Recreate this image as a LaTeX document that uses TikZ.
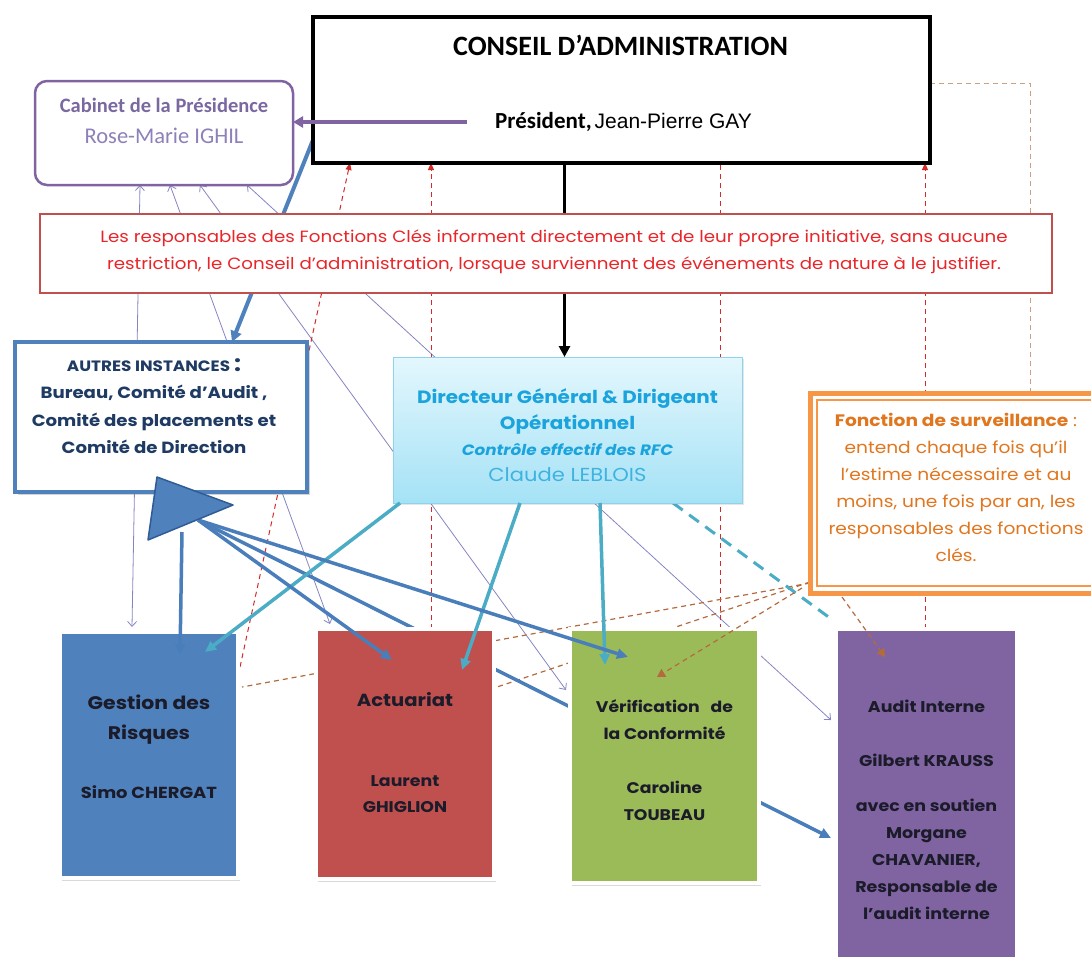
\documentclass[tikz,border=0pt]{standalone}
\usepackage{fontspec}
\setmainfont{Poppins}[FakeStretch=1.12]
\newfontfamily\calib{Carlito}
\newfontfamily\arialf{Liberation Sans}
\usetikzlibrary{arrows.meta,shadows}
\pgfdeclarelayer{bg}
\pgfdeclarelayer{fg}
\pgfsetlayers{bg,main,fg}
\newcommand{\setsz}[2]{\fontsize{#1}{#2}\selectfont}

\definecolor{grblue}{HTML}{4F81BD}
\definecolor{actred}{HTML}{C0504D}
\definecolor{vcgreen}{HTML}{9BBB59}
\definecolor{aipurple}{HTML}{8064A2}
\definecolor{cabtext}{HTML}{7A68A0}
\definecolor{cablight}{HTML}{8E80B8}
\definecolor{notetext}{HTML}{E8262A}
\definecolor{autnavy}{HTML}{1F3B63}
\definecolor{dgtop}{HTML}{E3F7FD}
\definecolor{dgbot}{HTML}{A5E2F6}
\definecolor{dgborder}{HTML}{8FD2EC}
\definecolor{dgtext}{HTML}{1AA3DC}
\definecolor{dglight}{HTML}{3FB3E0}
\definecolor{fsorange}{HTML}{F79646}
\definecolor{fstext}{HTML}{E0761E}
\definecolor{boxtext}{HTML}{1B1B2A}
\definecolor{thinline}{HTML}{8585C2}
\definecolor{dashred}{HTML}{D42A2A}
\definecolor{dashorg}{HTML}{B46A3C}
\definecolor{dashtop}{HTML}{C9A080}
\definecolor{arrblue}{HTML}{4A7EBB}
\definecolor{arrteal}{HTML}{4BACC6}
\definecolor{tridark}{HTML}{2F5C94}

\begin{document}
\begin{tikzpicture}[x=1pt, y=-1pt,
  box/.style={inner sep=0pt, outer sep=0pt, anchor=north west},
  fnbox/.style={box, draw=white, line width=4pt,
    drop shadow={opacity=0.3, shadow xshift=2pt, shadow yshift=-3pt}},
  txt/.style={align=center, inner sep=0pt},
  thinlink/.style={draw=thinline, line width=0.8pt,
    {Straight Barb[length=5pt,width=9pt]}-{Straight Barb[length=5pt,width=9pt]}},
  reddash/.style={draw=dashred, line width=1pt, dash pattern=on 5pt off 4pt},
  redtip/.style={-{Triangle[length=7pt,width=6pt]}},
  orgdash/.style={draw=dashorg, line width=1.2pt, dash pattern=on 5pt off 4pt},
  orgtip/.style={-{Triangle[length=8pt,width=9pt]}},
  bluelink/.style={draw=arrblue, line width=3.5pt, -{Triangle[length=11pt,width=10pt]}},
  teallink/.style={draw=arrteal, line width=3.5pt, -{Triangle[length=11pt,width=10pt]}}]
\useasboundingbox (0,0) rectangle (1091,956);

% boxes
\node[box, draw=black, line width=3.5pt, fill=white, minimum width=617, minimum height=146] (ca) at (313,17) {};
\node[txt, font=\calib\bfseries\setsz{28}{32}] (ca-title) at ([xshift=-1pt,yshift=-28pt]ca.north) {CONSEIL D’ADMINISTRATION};
\node[txt] (pres) at ([xshift=2pt,yshift=-105pt]ca.north)
  {{\calib\bfseries\setsz{23}{26}Président,}\ {\arialf\setsz{21}{24}Jean-Pierre GAY}};

\node[box, draw=aipurple, line width=2.5pt, rounded corners=12pt, fill=white,
  minimum width=258, minimum height=104] (cab) at (35,81) {};
\node[txt, font=\calib\setsz{20.5}{31}] (cab-t) at ([yshift=-40pt]cab.north)
  {\textcolor{cabtext}{\bfseries Cabinet de la Présidence}\\\textcolor{cablight}{\setsz{22.5}{31}Rose-Marie IGHIL}};

\node[box, draw=actred, line width=2.5pt, fill=white, minimum width=1012, minimum height=79] (note) at (40,214) {};
\node[txt, text=notetext, font=\setsz{16.3}{27}] (note-t) at ([xshift=8pt,yshift=2pt]note.center)
  {Les responsables des Fonctions Clés informent directement et de leur propre initiative, sans aucune\\
   restriction, le Conseil d’administration, lorsque surviennent des événements de nature à le justifier.};

\node[box, draw=grblue, line width=3.5pt, fill=white, minimum width=292, minimum height=150,
  drop shadow={opacity=0.35, shadow xshift=3pt, shadow yshift=-3pt}] (autres) at (15,342) {};
\node[txt, text=autnavy, font=\bfseries\setsz{16.2}{27.3}] (autres-t) at ([xshift=-7pt,yshift=-64pt]autres.north)
  {{\setsz{15}{27.3}AUTRES INSTANCES}\ {\setsz{22}{27.3}:}\\Bureau, Comité d’Audit ,\\Comité des placements et\\Comité de Direction};

\node[box, draw=dgborder, line width=0.8pt, top color=dgtop, bottom color=dgbot,
  minimum width=349, minimum height=146,
  drop shadow={opacity=0.2, shadow xshift=2pt, shadow yshift=-2pt}] (dg) at (393,357) {};
\node[txt, text=dgtext, font=\bfseries\setsz{17.8}{26}] (dg-t) at ([yshift=-78pt]dg.north)
  {Directeur Général \& Dirigeant\\Opérationnel\\{\itshape\setsz{15}{26}Contrôle effectif des RFC}\\{\mdseries\setsz{18.8}{26}\textcolor{dglight}{Claude LEBLOIS}}};

\node[box, draw=fsorange, line width=5pt, fill=white, minimum width=300, minimum height=200] (fs) at (810,393) {};
\draw[fsorange, line width=1.2pt] ([shift={(7,7)}]fs.north west) rectangle ([shift={(-7,-7)}]fs.south east);
\node[txt, text=fstext, font=\setsz{16.6}{27}] (fs-t) at ([xshift=-4pt,yshift=-94pt]fs.north)
  {{\bfseries Fonction de surveillance} :\\entend chaque fois qu'il\\l'estime nécessaire et au\\moins, une fois par an, les\\responsables des fonctions\\clés.};

\node[fnbox, fill=grblue, minimum width=178, minimum height=246] (gr) at (60,632) {};
\node[txt, text=boxtext, font=\bfseries\setsz{18.2}{30}] (gr-t) at ([yshift=-115pt]gr.north)
  {Gestion des\\Risques\\[29pt]{\setsz{16}{30}Simo CHERGAT}};

\node[fnbox, fill=actred, minimum width=178, minimum height=250] (act) at (316,629) {};
\node[txt, text=boxtext, font=\bfseries\setsz{17.5}{26}] (act-t) at ([yshift=-124pt]act.north)
  {Actuariat\\[54pt]{\setsz{15.5}{26}Laurent}\\{\setsz{15.5}{26}GHIGLION}};

\node[fnbox, fill=vcgreen, minimum width=189, minimum height=254] (vc) at (570,629) {};
\node[txt, text=boxtext, font=\bfseries\setsz{15.4}{27}] (vc-t) at ([yshift=-131pt]vc.north)
  {Vérification~~ de\\la Conformité\\[27pt]Caroline\\TOUBEAU};

\node[fnbox, fill=aipurple, minimum width=181, minimum height=330] (ai) at (836,629) {};
\node[txt, text=boxtext, font=\bfseries\setsz{15.6}{27}] (ai-t) at ([yshift=-181pt]ai.north)
  {Audit Interne\\[27pt]Gilbert KRAUSS\\[18pt]avec en soutien\\Morgane\\CHAVANIER,\\Responsable de\\l’audit interne};

\coordinate (tri-s) at (182,532);
\coordinate (tri-e) at (198,520);
\coordinate (dgtop) at ([xshift=-3pt]dg.north);

% links behind the boxes
\begin{pgfonlayer}{bg}
\draw[thinlink] ([xshift=105pt]cab.south west) -- ([xshift=72pt,yshift=5pt]gr.north west);
\draw[thinlink] ([xshift=135pt]cab.south west) -- ([xshift=14pt,yshift=5pt]act.north west);
\draw[thinlink] ([xshift=165pt]cab.south west) -- ([xshift=-4pt,yshift=-61pt]vc.north west);
\draw[thinlink] ([xshift=212pt]cab.south west) -- ([xshift=-5pt,yshift=-91pt]ai.north west);

\draw[reddash, redtip] ([xshift=2pt,yshift=-35pt]gr.north east) -- ([xshift=37pt]ca.south west);
\coordinate (r2) at ([xshift=115pt]act.north west);
\coordinate (r3) at ([xshift=150pt]vc.north west);
\coordinate (r4) at ([xshift=89pt]ai.north west);
\draw[reddash, redtip] (r2) -- (r2 |- ca.south);
\draw[reddash] (r3) -- (r3 |- ca.south);
\draw[reddash, redtip] (r4) -- (r4 |- ca.south);
\draw[draw=dashtop, line width=1pt, dash pattern=on 5pt off 4pt]
  ([xshift=220pt]fs.north west) |- ([yshift=-66pt]ca.north east);

\draw[orgdash] ([yshift=10pt]fs.south west) -- ([xshift=4pt,yshift=-55pt]gr.north east);
\draw[orgdash] ([yshift=11pt]fs.south west) -- ([yshift=-59pt]act.north east);

\draw[draw=grblue, line width=4pt, -{Triangle[length=11pt,width=11pt]}]
  ([yshift=-123pt]ca.north west) -- ([xshift=217pt]autres.north west);
\draw[line width=3.5pt, -{Triangle[length=11pt,width=11pt]}] (dgtop |- ca.south) -- (dgtop);
\draw[bluelink] (tri-e) -- ([xshift=-5pt,yshift=-209pt]ai.north west);
\draw[draw=arrteal, line width=3pt, dash pattern=on 12pt off 8pt]
  ([xshift=280pt]dg.south west) -- ([xshift=-2pt,yshift=8pt]ai.north west);
\end{pgfonlayer}

% links on top of the boxes
\begin{pgfonlayer}{fg}
\draw[draw=aipurple, line width=4.5pt, -{Triangle[length=10pt,width=11pt]}]
  ([xshift=-28pt]pres.west) -- (pres.west -| cab.east);

\draw[teallink] ([xshift=7pt]dg.south west) -- ([xshift=-33pt,yshift=-20pt]gr.north east);
\draw[teallink] ([xshift=127pt]dg.south west) -- ([xshift=-32pt,yshift=-41pt]act.north east);
\draw[teallink] ([xshift=207pt]dg.south west) -- ([xshift=35pt,yshift=-36pt]vc.north west);

\draw[bluelink] (tri-s) -- ([xshift=120pt,yshift=-23pt]gr.north west);
\draw[bluelink] (tri-e) -- ([xshift=76pt,yshift=-31pt]act.north west);
\draw[bluelink] (tri-e) -- ([xshift=58pt,yshift=-28pt]vc.north west);

\draw[orgdash, orgtip] ([xshift=-8pt,yshift=5pt]fs.south west) -- ([xshift=87pt,yshift=-48pt]vc.north west);
\draw[orgdash, orgtip] ([xshift=32pt,yshift=-4pt]fs.south west) -- ([xshift=49pt,yshift=-28pt]ai.north west);

\draw[fill=grblue, draw=tridark, line width=1.5pt, line join=round]
  (157,477) -- (233,505) -- (148,540) -- cycle;
\end{pgfonlayer}
\end{tikzpicture}
\end{document}
